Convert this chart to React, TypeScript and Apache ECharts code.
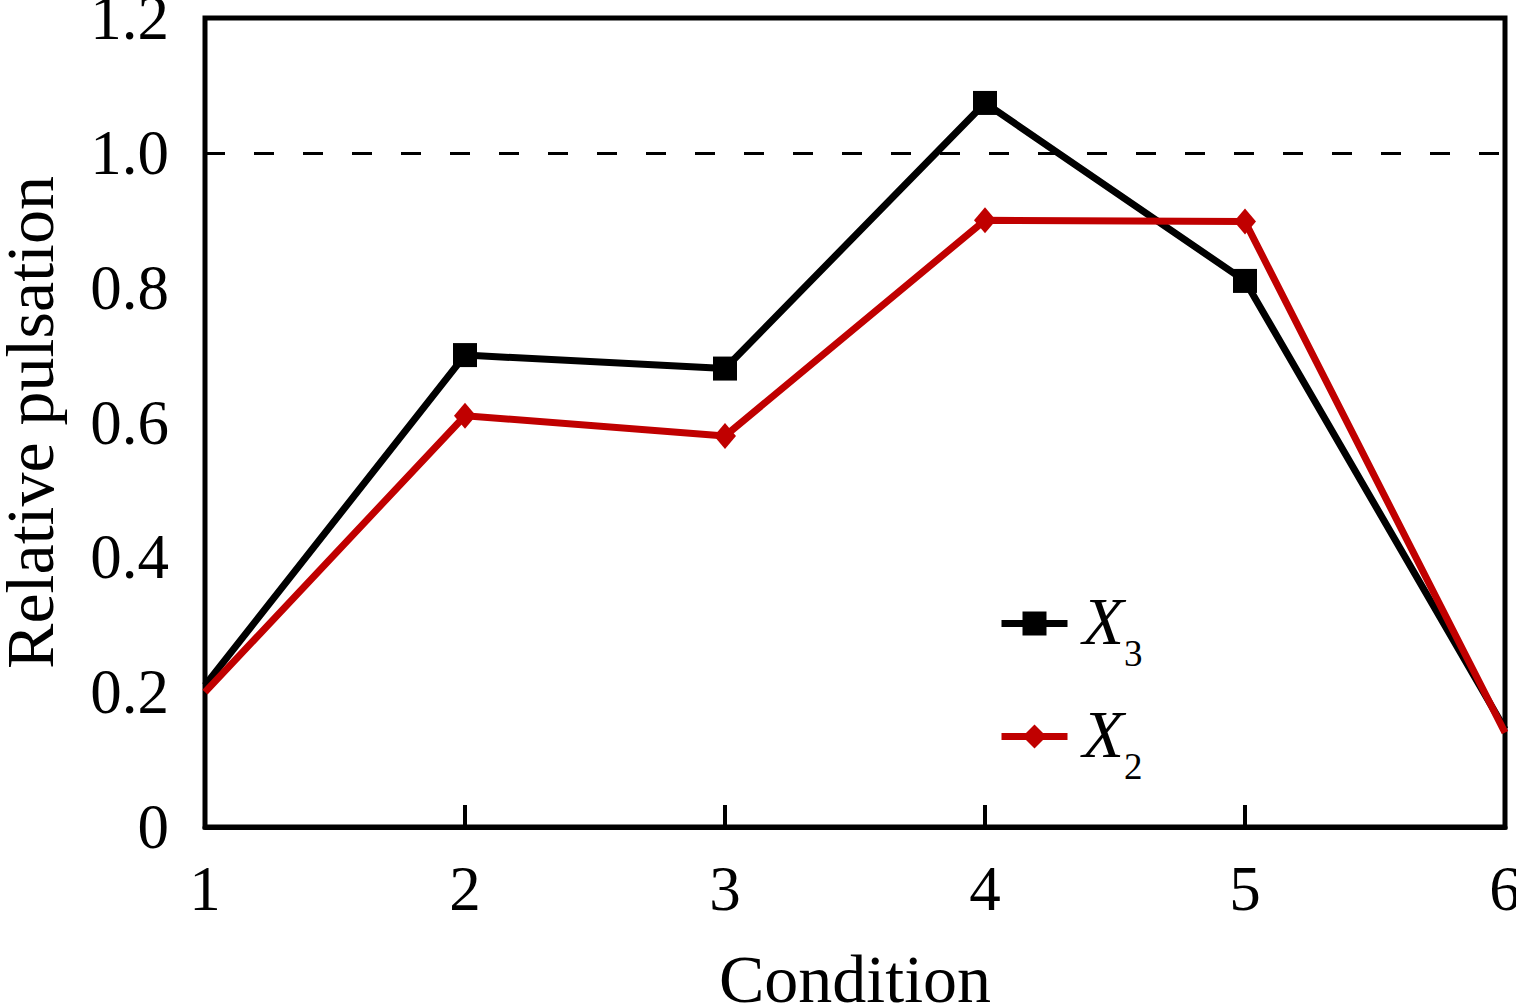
import { useEffect, useRef } from 'react';
import * as echarts from 'echarts';

const conditions = ['1', '2', '3', '4', '5', '6'];
const x3Values = [0.21, 0.7, 0.68, 1.074, 0.81, 0.145];
const x2Values = [0.2, 0.61, 0.58, 0.9, 0.898, 0.14];
const referenceLevel = 1.0;

const FONT = '"Liberation Serif", "Times New Roman", serif';

// end points sit on the frame and get clipped in the original
const withEnds = (vals: number[]) =>
  vals.map((v, i) =>
    i === 0 || i === vals.length - 1 ? { value: v, symbol: 'none' } : v
  );

export default function App() {
  const chartRef = useRef<HTMLDivElement>(null);

  useEffect(() => {
    if (!chartRef.current) return;
    document.body.style.margin = '0';
    const chart = echarts.init(chartRef.current, undefined, { renderer: 'svg' });

    const option: echarts.EChartsOption = {
      animation: false,
      backgroundColor: '#fff',
      textStyle: { fontFamily: FONT, color: '#000' },
      grid: {
        left: 205,
        right: 11,
        top: 18,
        bottom: 178,
        outerBoundsMode: 'none',
        show: true,
        borderColor: '#000',
        borderWidth: 5,
      } as any,
      legend: {
        orient: 'vertical',
        left: 993,
        top: 582,
        itemWidth: 66,
        itemHeight: 30,
        itemGap: 28,
        data: ['X3', 'X2'],
        lineStyle: { width: 7 },
        formatter: (name: string) => `{i|X}{s|${name.slice(1)}}`,
        textStyle: {
          rich: {
            i: {
              fontFamily: FONT,
              fontStyle: 'italic',
              fontSize: 68,
              color: '#000',
              verticalAlign: 'top',
              padding: [12, 0, 0, 10],
            },
            s: {
              fontFamily: FONT,
              fontSize: 37,
              color: '#000',
              verticalAlign: 'top',
              padding: [60, 0, 0, 0],
            },
          },
        },
      },
      xAxis: {
        type: 'category',
        data: conditions,
        boundaryGap: false,
        name: 'Condition',
        nameLocation: 'middle',
        nameGap: 118,
        nameTextStyle: { fontFamily: FONT, fontSize: 68, color: '#000' },
        axisLine: { lineStyle: { color: '#000', width: 5 } },
        axisTick: { inside: true, length: 22, lineStyle: { color: '#000', width: 4 } },
        axisLabel: { fontFamily: FONT, fontSize: 63, color: '#000', margin: 30 },
        splitLine: { show: false },
      },
      yAxis: {
        type: 'value',
        min: 0,
        max: 1.2,
        interval: 0.2,
        name: 'Relative pulsation',
        nameLocation: 'middle',
        nameGap: 141,
        nameTextStyle: { fontFamily: FONT, fontSize: 68, color: '#000' },
        axisLine: { lineStyle: { color: '#000', width: 5 } },
        axisTick: { inside: true, length: 22, lineStyle: { color: '#000', width: 4 } },
        axisLabel: {
          fontFamily: FONT,
          fontSize: 63,
          color: '#000',
          margin: 36,
          formatter: (v: number) => (v === 0 ? '0' : v.toFixed(1)),
        },
        splitLine: { show: false },
      },
      series: [
        {
          name: 'X3',
          type: 'line',
          data: withEnds(x3Values),
          symbol: 'rect',
          symbolSize: 24,
          lineStyle: { color: '#000', width: 7 },
          itemStyle: { color: '#000' },
          markLine: {
            silent: true,
            symbol: 'none',
            label: { show: false },
            lineStyle: { color: '#000', width: 3, type: [20, 29] },
            data: [{ yAxis: referenceLevel }],
          },
        },
        {
          name: 'X2',
          type: 'line',
          data: withEnds(x2Values),
          symbol: 'diamond',
          symbolSize: [22, 26],
          lineStyle: { color: '#C00000', width: 7 },
          itemStyle: { color: '#C00000' },
        },
      ],
    };

    chart.setOption(option);
    return () => chart.dispose();
  }, []);

  return <div ref={chartRef} style={{ width: 1516, height: 1005 }} />;
}
